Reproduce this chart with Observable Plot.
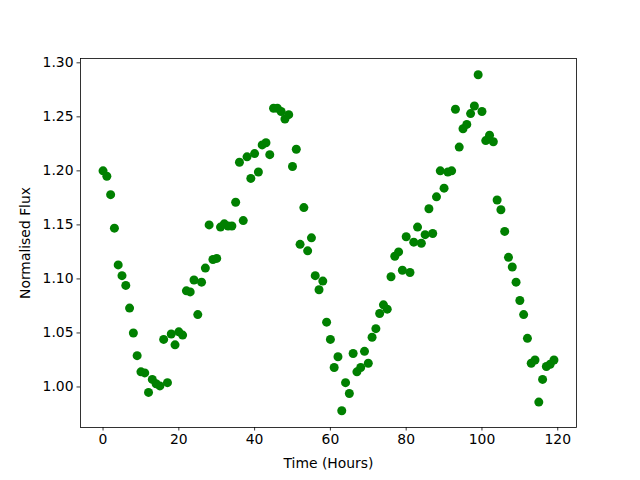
<!DOCTYPE html>
<html>
<head>
<meta charset="utf-8">
<script src="https://cdn.jsdelivr.net/npm/d3@7"></script>
<script src="https://cdn.jsdelivr.net/npm/@observablehq/plot@0.6"></script>
<style>
  html, body { margin: 0; padding: 0; background: #fff; }
</style>
</head>
<body>
<div id="chart"></div>
<script>
const hours = d3.range(0, 120);
const flux = [
  1.200, 1.195, 1.178, 1.147, 1.113, 1.103, 1.094, 1.073, 1.050, 1.029,
  1.014, 1.013, 0.995, 1.007, 1.003, 1.001, 1.044, 1.004, 1.049, 1.039,
  1.051, 1.048, 1.089, 1.088, 1.099, 1.067, 1.097, 1.110, 1.150, 1.118,
  1.119, 1.148, 1.151, 1.149, 1.149, 1.171, 1.208, 1.154, 1.213, 1.193,
  1.216, 1.199, 1.224, 1.226, 1.215, 1.258, 1.258, 1.255, 1.248, 1.252,
  1.204, 1.220, 1.132, 1.166, 1.126, 1.138, 1.103, 1.090, 1.098, 1.060,
  1.044, 1.018, 1.028, 0.978, 1.004, 0.994, 1.031, 1.014, 1.018, 1.033,
  1.022, 1.046, 1.054, 1.068, 1.076, 1.072, 1.102, 1.121, 1.125, 1.108,
  1.139, 1.106, 1.134, 1.148, 1.133, 1.141, 1.165, 1.142, 1.176, 1.200,
  1.184, 1.199, 1.200, 1.257, 1.222, 1.239, 1.243, 1.253, 1.260, 1.289,
  1.255, 1.228, 1.233, 1.227, 1.173, 1.164, 1.144, 1.120, 1.111, 1.097,
  1.080, 1.067, 1.045, 1.022, 1.025, 0.986, 1.007, 1.019, 1.021, 1.025
];
const xTicks = [0, 20, 40, 60, 80, 100, 120];
const yTicks = [1.00, 1.05, 1.10, 1.15, 1.20, 1.25, 1.30];

const data = hours.map((h, i) => ({hour: h, flux: flux[i]}));

const chart = Plot.plot({
  width: 640,
  height: 480,
  marginLeft: 80,
  marginRight: 64,
  marginTop: 58,
  marginBottom: 53,
  style: {fontFamily: "DejaVu Sans", fontSize: "13.9px", color: "black", background: "white"},
  x: {domain: [-5.95, 124.95]},
  y: {domain: [0.9625, 1.304]},
  marks: [
    Plot.axisX({ticks: xTicks, tickSize: 3.5, tickPadding: 3.5, tickFormat: d3.format("d"),
      label: "Time (Hours)", labelAnchor: "center", labelArrow: "none", labelOffset: 40, strokeWidth: 0.8}),
    Plot.axisY({ticks: yTicks, tickSize: 3.5, tickPadding: 3.5, tickFormat: d3.format(".2f"),
      label: "Normalised Flux", labelAnchor: "center", labelArrow: "none", labelOffset: 60, strokeWidth: 0.8}),
    Plot.dot(data, {x: "hour", y: "flux", r: 4.5, fill: "green", stroke: "none"}),
    Plot.frame({stroke: "black", strokeWidth: 0.8})
  ]
});
document.getElementById("chart").appendChild(chart);
</script>
</body>
</html>
